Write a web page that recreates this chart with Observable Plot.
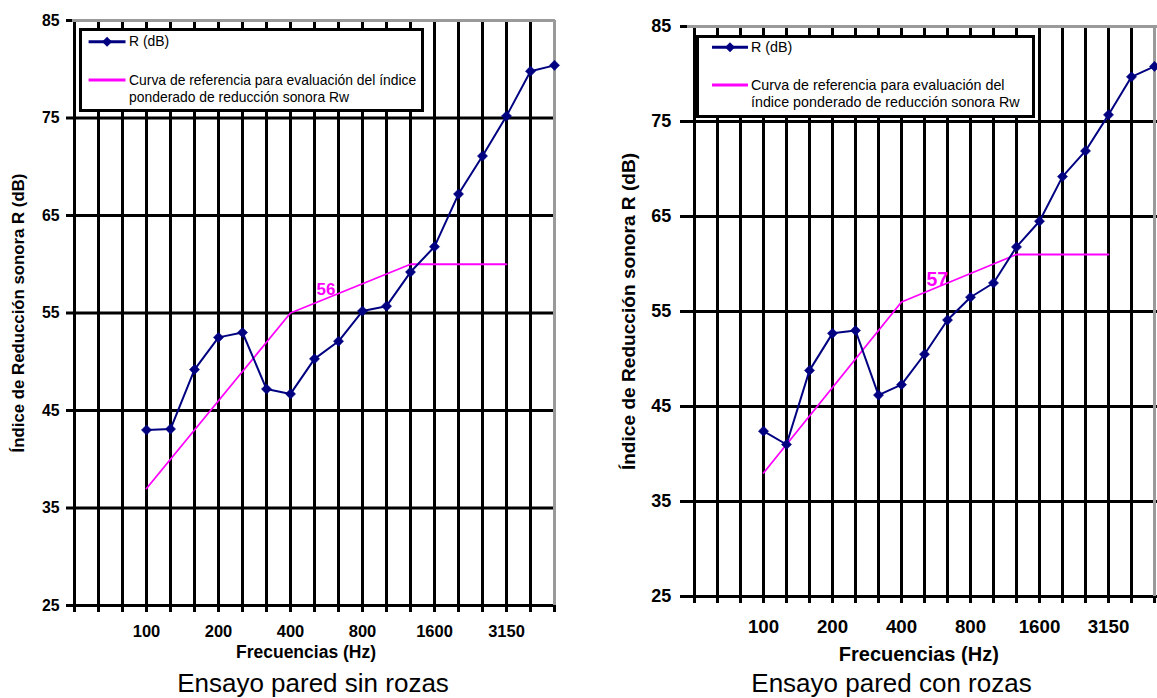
<!DOCTYPE html>
<html><head><meta charset="utf-8">
<script src="https://cdn.jsdelivr.net/npm/d3@7"></script>
<script src="https://cdn.jsdelivr.net/npm/@observablehq/plot@0.6"></script>
<style>
html,body{margin:0;padding:0;background:#fff;overflow:hidden;width:1157px;height:698px;font-family:"Liberation Sans",Arial,sans-serif;}
#wrap{position:relative;width:1157px;height:698px;overflow:hidden;}
.panel{position:absolute;top:0;}
.panel svg{max-width:none !important;}
.caption{position:absolute;font-size:26px;line-height:26px;text-align:center;color:#000;white-space:nowrap;}
.legend{position:absolute;border:3px solid #000;background:#fff;box-sizing:border-box;}
.ltext{position:absolute;line-height:17px;color:#000;white-space:nowrap;}
.sw{position:absolute;overflow:visible;}
</style></head><body><div id="wrap"></div>
<script>
// One-third octave bands on the x axis
const bands = ["50","63","80","100","125","160","200","250","315","400","500","630","800","1000","1250","1600","2000","2500","3150","4000","5000"];
const tickLabels = ["100","200","400","800","1600","3150"];
const yTicks = [25, 35, 45, 55, 65, 75, 85];
// Measured R (dB), 100 Hz .. 5000 Hz
const measFreqs = ["100","125","160","200","250","315","400","500","630","800","1000","1250","1600","2000","2500","3150","4000","5000"];
const rSinRozas = [43.0, 43.1, 49.2, 52.5, 53.0, 47.2, 46.7, 50.3, 52.1, 55.2, 55.7, 59.2, 61.8, 67.2, 71.1, 75.2, 79.8, 80.4];
const rConRozas = [42.4, 41.0, 48.8, 52.7, 53.0, 46.2, 47.3, 50.5, 54.1, 56.5, 58.0, 61.8, 64.5, 69.2, 71.9, 75.7, 79.7, 80.8];
// Reference curve (ISO 717-1, shifted), 100 Hz .. 3150 Hz
const refFreqs = ["100","125","160","200","250","315","400","500","630","800","1000","1250","1600","2000","2500","3150"];
const refSinRozas = [37, 40, 43, 46, 49, 52, 55, 56, 57, 58, 59, 60, 60, 60, 60, 60];
const refConRozas = [38, 41, 44, 47, 50, 53, 56, 57, 58, 59, 60, 61, 61, 61, 61, 61];
const rwSinRozas = 56;
const rwConRozas = 57;
// Texts
const yTitle = "Índice de Reducción sonora R (dB)";
const xTitle = "Frecuencias (Hz)";
const captions = ["Ensayo pared sin rozas", "Ensayo pared con rozas"];
const legendR = "R (dB)";
const legendRef = ["Curva de referencia para evaluación del índice", "ponderado de reducción sonora Rw"];
const legendRef2 = ["Curva de referencia para evaluación del", "índice ponderado de reducción sonora Rw"];

const NAVY = "#000080", MAG = "#ff00ff", GRAY = "#9a9a9a";
const FONT = "Liberation Sans, Arial, sans-serif";

function panel(cfg) {
  const meas = measFreqs.map((f, i) => ({f, v: cfg.r[i]}));
  const ref = refFreqs.map((f, i) => ({f, v: cfg.ref[i]}));
  return Plot.plot({
    width: cfg.width, height: cfg.height,
    marginLeft: cfg.mL, marginRight: cfg.mR, marginTop: cfg.mT, marginBottom: cfg.mB,
    style: {fontFamily: FONT, background: "transparent", color: "#000", overflow: "visible", maxWidth: "none"},
    x: {type: "point", domain: bands, padding: 0},
    y: {domain: [yTicks[0], yTicks[yTicks.length - 1]]},
    marks: [
      Plot.ruleY(yTicks.slice(0, -1), {stroke: "#000", strokeWidth: 3}),
      Plot.ruleX(bands.slice(0, -1), {stroke: "#000", strokeWidth: 3}),
      Plot.ruleX(bands.slice(-1), {stroke: GRAY, strokeWidth: 3}),
      Plot.ruleY(yTicks.slice(-1), {stroke: GRAY, strokeWidth: 3}),
      Plot.axisX({tickSize: 7, tickPadding: cfg.xPad, strokeWidth: 3, fontSize: cfg.xFont, fontWeight: "bold",
        tickFormat: d => tickLabels.includes(d) ? d : "", label: null}),
      Plot.axisY({ticks: yTicks, tickSize: cfg.yTick, tickPadding: cfg.yPad, strokeWidth: 3, fontSize: cfg.yFont,
        fontWeight: "bold", label: null}),
      Plot.line(ref, {x: "f", y: "v", stroke: MAG, strokeWidth: 1.8}),
      Plot.line(meas, {x: "f", y: "v", stroke: NAVY, strokeWidth: 2}),
      Plot.dot(meas, {x: "f", y: "v", symbol: "diamond2", r: 4.6, fill: NAVY, stroke: NAVY, strokeWidth: 0.5}),
      Plot.text([cfg.rw], {x: () => "500", y: d => d, text: d => String(d), fill: MAG, fontWeight: "bold",
        fontSize: cfg.rwFont, textAnchor: "start", dx: 2, dy: cfg.rwDy}),
      Plot.text([yTitle], {frameAnchor: "left", textAnchor: "middle", lineAnchor: "middle", rotate: -90,
        text: d => d, fontSize: cfg.tyFont, fontWeight: "bold", dx: cfg.tyDx, fill: "#000"}),
      Plot.text([xTitle], {frameAnchor: "bottom", textAnchor: "middle", lineAnchor: "middle", text: d => d,
        fontSize: cfg.txFont, fontWeight: "bold", dx: cfg.txDx, dy: cfg.txDy, fill: "#000"})
    ]
  });
}

const wrap = document.getElementById("wrap");
const cfgs = [
  {left: 0, width: 580, height: 665, mL: 72, mR: 25, mT: 20, mB: 60, xFont: 16.5, xPad: 13, yFont: 15.8, yPad: 7, yTick: 6,
   tyFont: 16.8, tyDx: -53.5, txFont: 17.5, txDx: -8, txDy: 46.5, rwFont: 17, rwDy: -14,
   r: rSinRozas, ref: refSinRozas, rw: rwSinRozas},
  {left: 600, width: 600, height: 665, mL: 87, mR: 38.4, mT: 26, mB: 69, xFont: 18.7, xPad: 16.5, yFont: 18, yPad: 9.3, yTick: 7,
   tyFont: 19.1, tyDx: -59, txFont: 20, txDx: -6, txDy: 58.5, rwFont: 19.5, rwDy: -13,
   r: rConRozas, ref: refConRozas, rw: rwConRozas}
];
cfgs.forEach(c => {
  const d = document.createElement("div");
  d.className = "panel"; d.style.left = c.left + "px";
  d.style.width = c.width + "px"; d.style.height = c.height + "px";
  d.appendChild(panel(c));
  wrap.appendChild(d);
});

// captions
function caption(text, center) {
  const c = document.createElement("div");
  c.className = "caption"; c.textContent = text;
  c.style.left = (center - 300) + "px"; c.style.width = "600px"; c.style.top = "670px";
  wrap.appendChild(c);
}
caption(captions[0], 313);
caption(captions[1], 891.5);

// legends
function legend(box, sw, textX, rowsY, lines, fs) {
  const b = document.createElement("div");
  b.className = "legend";
  Object.assign(b.style, {left: box[0] + "px", top: box[1] + "px", width: box[2] + "px", height: box[3] + "px"});
  wrap.appendChild(b);
  const svg = d3.select(wrap).append("svg").attr("class", "sw")
    .style("left", "0px").style("top", "0px").attr("width", 1157).attr("height", 200);
  svg.append("line").attr("x1", sw[0]).attr("x2", sw[1]).attr("y1", rowsY[0]).attr("y2", rowsY[0])
    .attr("stroke", NAVY).attr("stroke-width", 3);
  const cx = (sw[0] + sw[1]) / 2, s = 5;
  svg.append("path").attr("d", `M${cx},${rowsY[0]-s}L${cx+s},${rowsY[0]}L${cx},${rowsY[0]+s}L${cx-s},${rowsY[0]}Z`).attr("fill", NAVY);
  svg.append("line").attr("x1", sw[0]).attr("x2", sw[1]).attr("y1", rowsY[1]).attr("y2", rowsY[1])
    .attr("stroke", MAG).attr("stroke-width", 3);
  const t1 = document.createElement("div");
  t1.className = "ltext"; t1.textContent = legendR;
  Object.assign(t1.style, {left: textX + "px", top: (rowsY[0] - 8.5) + "px", fontSize: fs + "px"});
  wrap.appendChild(t1);
  const t2 = document.createElement("div");
  t2.className = "ltext"; t2.innerHTML = lines.join("<br>");
  Object.assign(t2.style, {left: textX + "px", top: (rowsY[1] - 8.5) + "px", fontSize: fs + "px"});
  wrap.appendChild(t2);
}
legend([79, 28, 345, 84], [88.6, 125.5], 129, [41.7, 80], legendRef, 13.9);
legend([696, 34.5, 339, 83.5], [712, 748], 751, [47.3, 85], legendRef2, 14.3);
</script>
</body></html>
